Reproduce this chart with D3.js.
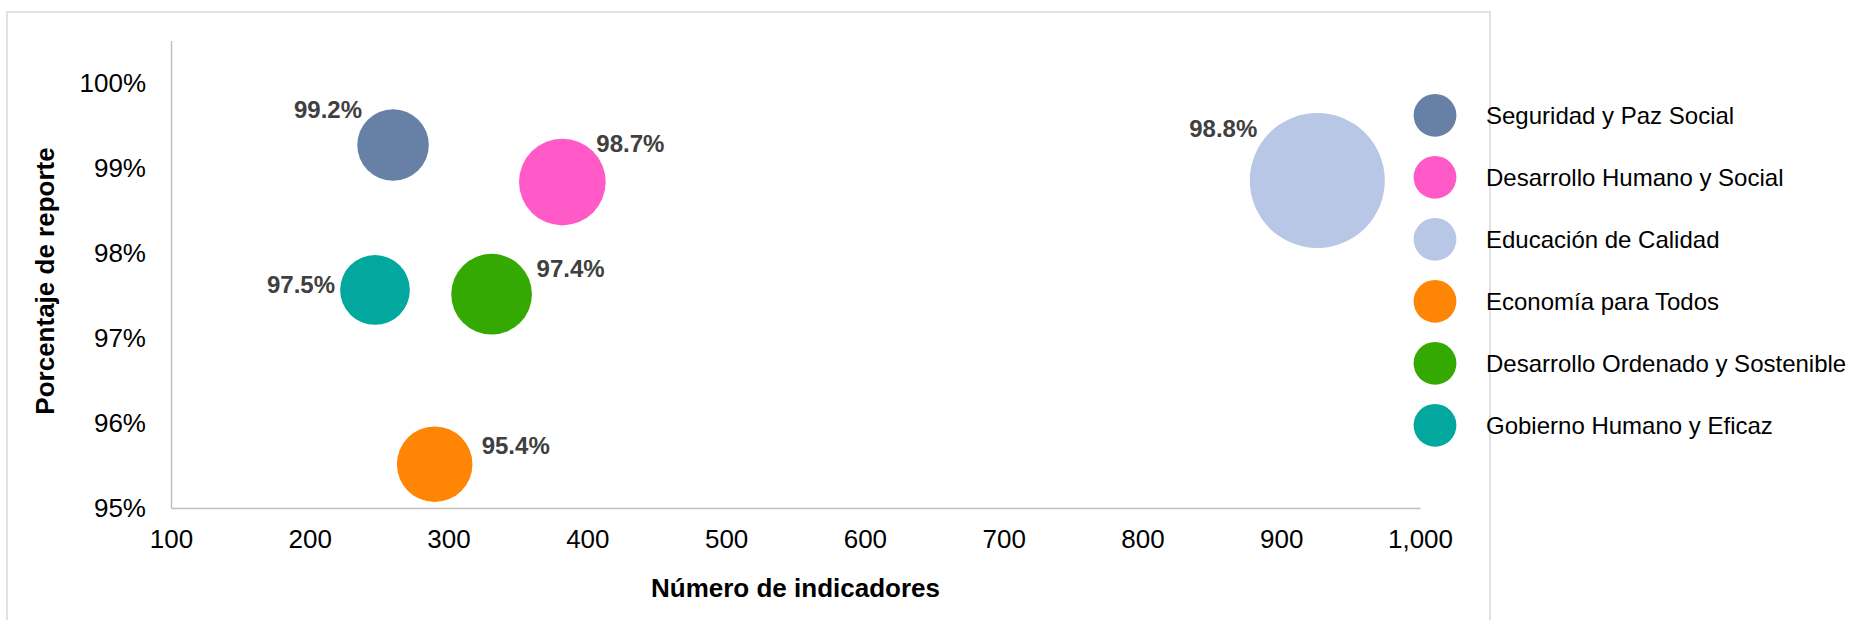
<!DOCTYPE html>
<html>
<head>
<meta charset="utf-8">
<script src="https://cdn.jsdelivr.net/npm/d3@7"></script>
<style>
  body { margin: 0; background: #fff; }
  svg { display: block; font-family: "Liberation Sans", Arial, sans-serif; }
</style>
</head>
<body>
<div id="chart"></div>
<script>
// Data
const categories = [
  'Seguridad y Paz Social',
  'Desarrollo Humano y Social',
  'Educación de Calidad',
  'Economía para Todos',
  'Desarrollo Ordenado y Sostenible',
  'Gobierno Humano y Eficaz'
];
const indicadores = [260, 382, 926, 290, 331, 247];
const porcentaje = [0.9927, 0.98835, 0.98853, 0.95515, 0.97515, 0.97565];
const etiquetas = ['99.2%', '98.7%', '98.8%', '95.4%', '97.4%', '97.5%'];
const colors = ['#6780a6', '#ff5ac8', '#b8c7e6', '#ff8505', '#34a902', '#02a89d'];
const xTicks = [100, 200, 300, 400, 500, 600, 700, 800, 900, 1000];
const yTicks = [0.95, 0.96, 0.97, 0.98, 0.99, 1.0];

// label placement relative to bubble centre (anchor, dx, dy)
const labelPos = [
  ['end', -31, -27],
  ['start', 34, -30],
  ['end', -60, -43],
  ['start', 47, -10],
  ['start', 45, -17],
  ['end', -40, 3]
];

let width = 1849,
    height = 620;

let svg = d3.select('#chart')
  .append('svg')
  .attr('width', width)
  .attr('height', height);

// outer frame (bottom edge falls outside the picture)
svg.append('path')
  .attr('d', 'M7,630 L7,12 L1490,12 L1490,630')
  .attr('fill', 'none')
  .attr('stroke', '#d9d9d9')
  .attr('stroke-width', 1.5);

let x = d3.scaleLinear()
  .domain([100, 1000])
  .range([171, 1420]);

let y = d3.scaleLinear()
  .domain([0.95, 1.005])
  .range([508, 40.5]);

let r = d3.scaleSqrt()
  .domain([0, 926])
  .range([0, 67.5]);

// Axes
let xAxis = svg.append('g')
  .attr('transform', `translate(0, ${y(0.95)})`)
  .call(d3.axisBottom(x).tickValues(xTicks).tickFormat(d3.format(',')).tickSize(0).tickPadding(22));

let yAxis = svg.append('g')
  .attr('transform', `translate(${x(100)}, 0)`)
  .call(d3.axisLeft(y).tickValues(yTicks).tickFormat(d3.format('.0%')).tickSize(0).tickPadding(25));

[xAxis, yAxis].forEach(g => {
  g.select('.domain').attr('stroke', '#bfbfbf').attr('stroke-width', 1.5);
  g.selectAll('text')
    .attr('font-family', '"Liberation Sans", Arial, sans-serif')
    .attr('font-size', 26)
    .attr('fill', '#000');
});

// Bubbles
let idx = d3.range(categories.length);

svg.append('g')
  .selectAll('circle')
  .data(idx)
  .join('circle')
  .attr('cx', i => x(indicadores[i]))
  .attr('cy', i => y(porcentaje[i]))
  .attr('r', i => r(indicadores[i]))
  .attr('fill', i => colors[i]);

svg.append('g')
  .selectAll('text')
  .data(idx)
  .join('text')
  .attr('x', i => x(indicadores[i]) + labelPos[i][1])
  .attr('y', i => y(porcentaje[i]) + labelPos[i][2])
  .attr('text-anchor', i => labelPos[i][0])
  .attr('font-size', 24)
  .attr('font-weight', 'bold')
  .attr('fill', '#404040')
  .text(i => etiquetas[i]);

// Axis titles
svg.append('text')
  .attr('x', (x(100) + x(1000)) / 2)
  .attr('y', 597)
  .attr('text-anchor', 'middle')
  .attr('font-size', 26)
  .attr('font-weight', 'bold')
  .text('Número de indicadores');

svg.append('text')
  .attr('transform', 'translate(54, 281) rotate(-90)')
  .attr('text-anchor', 'middle')
  .attr('font-size', 26)
  .attr('font-weight', 'bold')
  .text('Porcentaje de reporte');

// Legend
let legend = svg.append('g')
  .selectAll('g')
  .data(idx)
  .join('g')
  .attr('transform', i => `translate(1435, ${115.3 + i * 62})`);

legend.append('circle')
  .attr('r', 21.4)
  .attr('fill', i => colors[i]);

legend.append('text')
  .attr('x', 51)
  .attr('dy', '0.35em')
  .attr('font-size', 24)
  .attr('fill', '#000')
  .text(i => categories[i]);
</script>
</body>
</html>
